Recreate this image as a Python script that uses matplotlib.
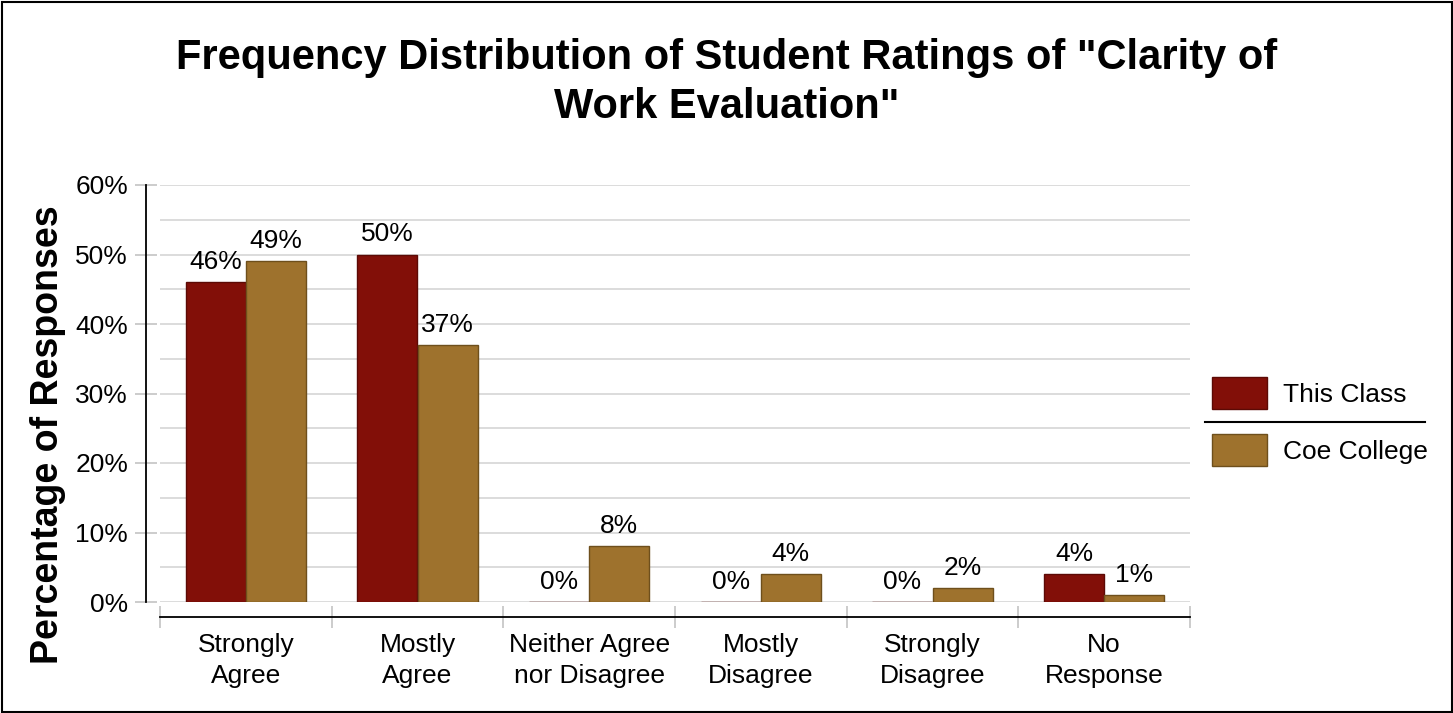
import matplotlib
matplotlib.use("Agg")
import matplotlib.pyplot as plt
import numpy as np
from matplotlib.ticker import MultipleLocator, FixedLocator, PercentFormatter
from matplotlib.patches import Rectangle
from matplotlib.lines import Line2D

plt.rcParams['font.family'] = ['Liberation Sans', 'DejaVu Sans']

# data
categories = ["Strongly\nAgree", "Mostly\nAgree", "Neither Agree\nnor Disagree",
              "Mostly\nDisagree", "Strongly\nDisagree", "No\nResponse"]
this_class = [46, 50, 0, 0, 0, 4]
coe_college = [49, 37, 8, 4, 2, 1]
series_names = ["This Class", "Coe College"]

red = "#820F08"
gold = "#9E722D"

W, H = 1453, 713
fig = plt.figure(figsize=(W / 100, H / 100), dpi=100)
ax = fig.add_axes([160 / W, (H - 602) / H, 1030 / W, 417 / H])

x = np.arange(len(categories))
bw = 0.35
b1 = ax.bar(x - bw, this_class, bw, align='edge', color=red,
            edgecolor="#5c0a05", linewidth=1, label=series_names[0], zorder=3)
b2 = ax.bar(x, coe_college, bw, align='edge', color=gold,
            edgecolor="#6e4f1c", linewidth=1, label=series_names[1], zorder=3)
for bars in (b1, b2):
    ax.bar_label(bars, labels=[f"{v:g}%" for v in bars.datavalues],
                 padding=6, fontsize=19)

ax.set_xlim(-0.5, len(categories) - 0.5)
ax.set_ylim(0, 60)

# spines first (set_position resets the ticks)
ax.spines['top'].set_visible(False)
ax.spines['right'].set_visible(False)
ax.spines['left'].set_position(('outward', 10))
ax.spines['bottom'].set_position(('outward', 11))
for s in ('left', 'bottom'):
    ax.spines[s].set_linewidth(1.3)
ax.set_axisbelow(True)

# y axis
ax.yaxis.set_major_locator(MultipleLocator(10))
ax.yaxis.set_minor_locator(MultipleLocator(5))
ax.yaxis.set_major_formatter(PercentFormatter(xmax=100, decimals=0))
ax.tick_params(axis='y', which='major', direction='inout', length=16,
               width=1.3, color='#c8c8c8', labelsize=19, pad=5)
ax.tick_params(axis='y', which='minor', length=0)
ax.grid(axis='y', which='both', color='#d6d6d6', linewidth=1.2, zorder=0)

# x axis: boundary ticks and labels at the category centres
ax.xaxis.set_major_locator(FixedLocator(np.arange(len(categories) + 1) - 0.5))
ax.xaxis.set_minor_locator(FixedLocator(x))
ax.set_xticklabels([], minor=False)
ax.tick_params(axis='x', which='major', direction='inout', length=16,
               width=1.3, color='#c8c8c8')
ax.tick_params(axis='x', which='minor', length=0, labelsize=19, pad=11)
ax.set_xticklabels(categories, minor=True, linespacing=1.4)

fig.text(48 / W, (H - 435) / H, "Percentage of Responses", rotation=90,
         ha='center', va='center', fontsize=27, fontweight='bold')

fig.text(0.5, (H - 38) / H,
         "Frequency Distribution of Student Ratings of \"Clarity of\nWork Evaluation\"",
         ha='center', va='top', fontsize=30, fontweight='bold', linespacing=1.28)

# legend with a separator line
fig.legend(loc='upper left', bbox_to_anchor=(1212 / W, (H - 377) / H),
           frameon=False, fontsize=19, handlelength=2.1, handleheight=1.5,
           handletextpad=0.6, labelspacing=0.95, borderpad=0, borderaxespad=0)
fig.add_artist(Line2D([1205 / W, 1425 / W], [(H - 422) / H] * 2,
                      color='black', linewidth=1.5, transform=fig.transFigure))

fig.add_artist(Rectangle((1.5 / W, 1.5 / H), 1 - 3 / W, 1 - 3 / H, fill=False,
                         edgecolor='black', linewidth=1.5,
                         transform=fig.transFigure))

fig.savefig("out.png", dpi=100)
